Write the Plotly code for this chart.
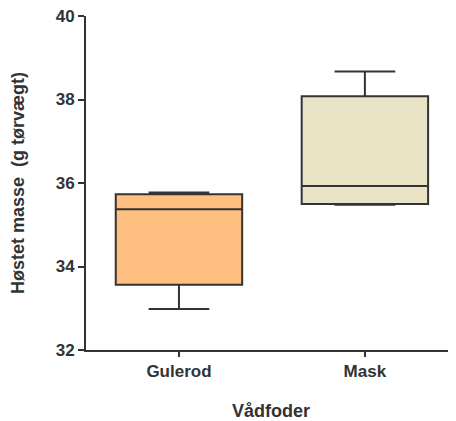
import plotly.graph_objects as go

categories = ["Gulerod", "Mask"]
lower_fence = [32.98, 35.48]
q1 = [33.56, 35.50]
median = [35.37, 35.93]
q3 = [35.73, 38.08]
upper_fence = [35.77, 38.67]
fill_colors = ["#FFBF80", "#E9E3C5"]
y_ticks = [32, 34, 36, 38, 40]

fig = go.Figure()
for i, c in enumerate(categories):
    fig.add_trace(go.Box(
        x=[c], lowerfence=[lower_fence[i]], q1=[q1[i]], median=[median[i]],
        q3=[q3[i]], upperfence=[upper_fence[i]],
        fillcolor=fill_colors[i], line=dict(color="#333333", width=2),
        width=0.68, whiskerwidth=0.48, boxpoints=False, showlegend=False,
        hoverinfo="skip",
    ))

FAM = "Liberation Sans, Arial, sans-serif"
tick_font = dict(family=FAM, size=17, color="#333333", weight="bold")
title_font = dict(family=FAM, size=18, color="#333333", weight="bold")

# page body has an 8px default margin, so the figure is 8px smaller
fig.update_layout(
    width=448, height=413,
    margin=dict(l=78, r=0, t=8, b=71),
    paper_bgcolor="white", plot_bgcolor="white",
    xaxis=dict(
        type="category", range=[-0.5, 1.49], automargin=False,
        showline=True, linecolor="#333333", linewidth=2,
        ticks="outside", ticklen=5, tickwidth=2, tickcolor="#333333",
        tickfont=tick_font, showgrid=False, zeroline=False,
        title=dict(text="Vådfoder", font=title_font, standoff=27),
    ),
    yaxis=dict(
        range=[32, 40], tickvals=y_ticks, automargin=False,
        ticklabeloverflow="allow",
        showline=True, linecolor="#333333", linewidth=2,
        ticks="outside", ticklen=6, tickwidth=2, tickcolor="#333333",
        tickfont=tick_font,
        showgrid=False, zeroline=False,
        title=dict(text="Høstet masse  (g tørvægt)", font=title_font, standoff=29),
    ),
)

fig.write_html("out.html")
